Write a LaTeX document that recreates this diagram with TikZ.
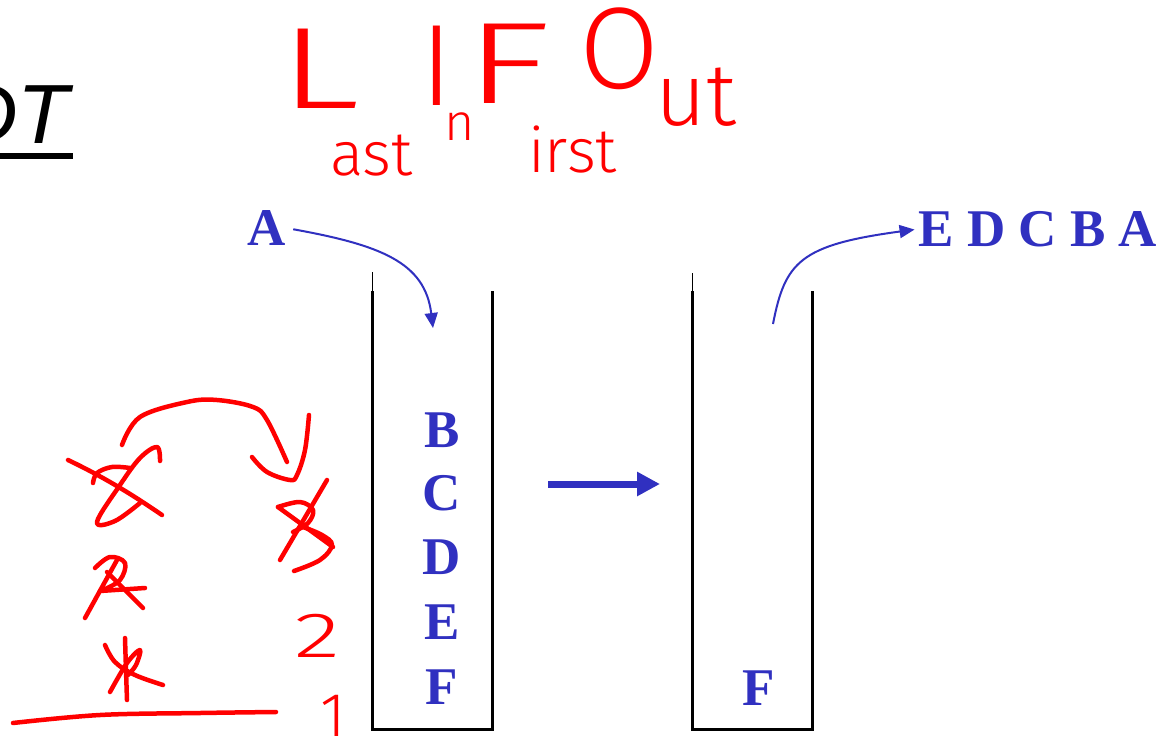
\documentclass[tikz,border=0pt]{standalone}
\usepackage{fontspec}
\setmainfont{Liberation Serif}
\newfontfamily\handfont{Fira Sans Light}
\newfontfamily\titlefont{Liberation Sans}
\usetikzlibrary{arrows.meta}
\definecolor{sblue}{RGB}{48,48,192}
\definecolor{ink}{RGB}{255,0,0}
\tikzset{
  blet/.style={text=sblue, inner sep=0pt, font=\fontsize{53}{60}\selectfont\bfseries},
  wall/.style={black, line width=3pt},
  thinwall/.style={black, line width=1pt},
  flow/.style={sblue, line width=2pt, -{Triangle[length=15pt,width=13pt]}},
  bigflow/.style={sblue, line width=7pt, -{Triangle[length=23pt,width=23pt]}},
  scr/.style={ink, line width=4.5pt, line cap=round, line join=round},
  hand/.style={text=ink, inner sep=0pt, anchor=base west},
  handbig/.style={hand, font=\handfont\fontsize{116}{120}\selectfont},
  handmid/.style={hand, font=\handfont\fontsize{88}{92}\selectfont},
  handsmall/.style={hand, font=\handfont\fontsize{62}{66}\selectfont},
}
\begin{document}
\begin{tikzpicture}[x=1pt,y=-1pt]
\useasboundingbox (0,0) rectangle (1173,742);
\fill[white] (0,0) rectangle (1173,742);

% title fragment
\node[inner sep=0pt, anchor=base west, font=\titlefont\itshape\fontsize{84}{90}\selectfont] (title) at (-43,143) {DT};
\draw[line width=6.5pt] (0,156) -- (73,156);

% LIFO handwriting
\node[handbig] (L) at (279,108) {\scalebox{1.45}[1]{L}};
\node[handsmall] (ast) at (330,175) {ast};
\node[handbig] (I) at (420,105) {I};
\node[handsmall, font=\handfont\fontsize{52}{56}\selectfont] (n) at (444,140) {n};
\node[handbig] (F) at (464,103) {\scalebox{1.55}[1]{F}};
\node[handsmall] (irst) at (528,172) {irst};
\node[handbig] (O) at (579,88) {O};
\node[handmid] (ut) at (655,125) {ut};

% stacks
\draw[thinwall] (372,272) -- (372,292);
\draw[wall] (372,291) -- (372,729) -- (492,729) -- (492,291);
\draw[thinwall] (692,273) -- (692,292);
\draw[wall] (692,291) -- (692,729) -- (812,729) -- (812,291);

% letters
\node[blet] (A) at (267,228) {A};
\node[blet] (B) at (442,430) {B};
\node[blet] (C) at (442,493) {C};
\node[blet] (D) at (442,557) {D};
\node[blet] (E) at (442,622) {E};
\node[blet] (F1) at (442,687) {F};
\node[blet] (F2) at (759,688) {F};
\node[blet] (out) at (1038,229) {E D C B A};

% arrows
\coordinate (pushend) at (433,328);
\coordinate (popstart) at (773,324);
\coordinate (m1) at (548,484);
\coordinate (m2) at (660,484);
\draw[flow, shorten <=7pt] (A.east) .. controls (380,245) and (425,262) .. (pushend);
\draw[flow, shorten >=4pt] (popstart) .. controls (785,262) and (800,245) .. (out.west);
\draw[bigflow] (m1) -- (m2);

% red scribbles
\draw[scr] plot[smooth, tension=0.6] coordinates {(122,445) (140,417) (187,402) (217,400) (253,407) (267,420) (287,462)};
\draw[scr] plot[smooth, tension=0.6] coordinates {(252,457) (267,472) (290,480) (297,475) (305,450) (309,415)};
% crossed letter top-left
\draw[scr] (68,460) .. controls (110,480) and (140,500) .. (162,515);
\draw[scr] plot[smooth, tension=0.6] coordinates {(160,461) (157,447) (140,458) (120,485) (97,522) (115,521) (140,503)};
\draw[scr] plot[smooth, tension=0.6] coordinates {(93,483) (97,473) (112,467) (130,468)};
% crossed letter middle-left
\draw[scr] plot[smooth, tension=0.6] coordinates {(95,568) (110,557) (125,563) (120,580) (103,590)};
\draw[scr] (117,560) -- (85,618);
\draw[scr] (100,591) -- (145,588);
\draw[scr] (107,572) -- (143,608);
% crossed letter bottom-left
\draw[scr] plot[smooth, tension=0.6] coordinates {(125,638) (126,670) (127,700)};
\draw[scr] plot[smooth, tension=0.6] coordinates {(105,645) (115,662) (135,675) (163,685)};
\draw[scr] plot[smooth, tension=0.6] coordinates {(110,692) (127,663) (140,650) (136,665) (128,675)};
% base line
\draw[scr] plot[smooth, tension=0.6] coordinates {(13,723) (100,715) (200,713) (276,712)};
% crossed letter right
\draw[scr] (327,480) -- (280,560);
\draw[scr] plot[smooth, tension=0.6] coordinates {(278,507) (300,502) (313,510) (308,523) (293,532)};
\draw[scr] plot[smooth, tension=0.6] coordinates {(303,527) (322,535) (332,545) (320,560) (294,571)};
\draw[scr] (278,507) -- (333,547);
% numbers
\node[hand, font=\handfont\fontsize{64}{68}\selectfont] (two) at (294,657) {\scalebox{1.5}[1]{2}};
\node[hand, font=\handfont\fontsize{62}{66}\selectfont] (one) at (320,736) {1};
\end{tikzpicture}
\end{document}
